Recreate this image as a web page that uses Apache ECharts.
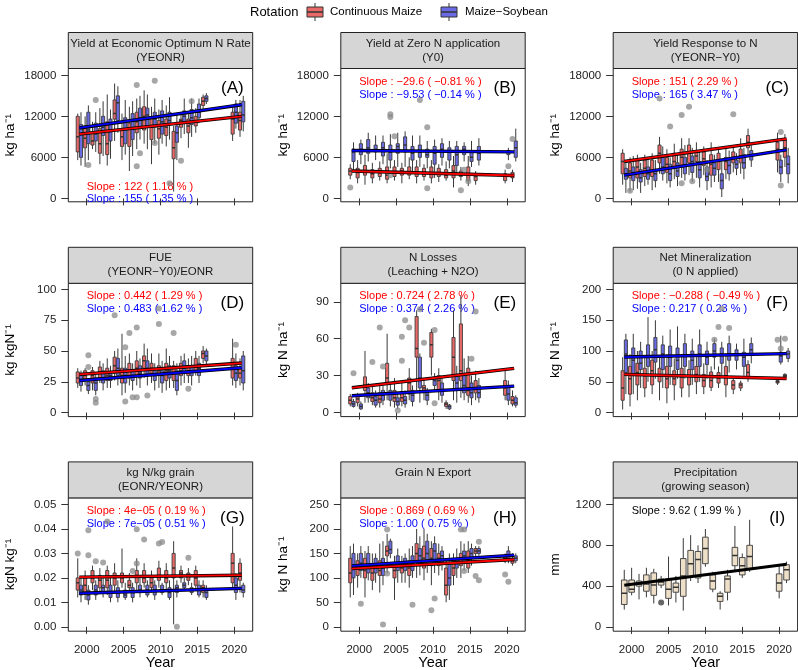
<!DOCTYPE html>
<html><head><meta charset="utf-8">
<script src="https://cdn.jsdelivr.net/npm/echarts@6/dist/echarts.min.js"></script>
<style>html,body{margin:0;padding:0;background:#fff}#c{width:798px;height:670px}</style>
</head><body><div id="c"></div>
<script>
// ---------------- DATA ----------------
const years = [1999,2000,2001,2002,2003,2004,2005,2006,2007,2008,2009,2010,2011,2012,2013,2014,2015,2016,2020,2021];
const rotations = ['Continuous Maize','Maize\u2212Soybean'];
const xTicks = [2000,2005,2010,2015,2020];

// each row: [min, q1, median, q3, max]
const A_cm = [[5600,6800,9000,12000,12400],[4600,7400,8800,10600,12000],[7200,7800,8400,9600,11200],[5000,6600,8000,10200,13200],[4800,6400,8000,11200,15200],[8400,11600,12400,14400,16800],[5600,7600,9000,10000,12400],[4000,7600,10200,11000,13400],[7200,9600,11200,12600,14600],[8000,10000,12000,13400,15800],[5000,8600,10400,11800,13400],[6400,8800,10200,11400,13000],[7600,9200,10400,11600,13600],[1000,5800,7400,9800,10600],[8800,10400,11400,11600,12600],[7400,9600,10600,11600,12400],[9600,10600,11200,12000,13200],[13000,13600,14200,14800,15200],[8400,9400,11600,12600,13400],[9000,10000,11400,12600,14400]];
const A_ms = [[4800,6000,9500,10800,12600],[5600,8000,10000,12600,13600],[6800,8400,9400,11000,12600],[6200,9200,10400,12000,14200],[5800,8400,9800,11600,13000],[9600,11400,14000,15000,16400],[6400,8000,10200,11800,14400],[6200,8600,10200,12400,14200],[8600,10400,11800,13200,15000],[7200,10400,12200,13200,15200],[8000,10400,11600,12600,14600],[8000,9400,11200,12800,14400],[8600,10800,11400,12600,14800],[5600,8200,9600,10600,12200],[9400,11200,12000,12800,14600],[9000,10800,11800,13000,14600],[11000,11800,12600,13800,14600],[13800,14200,14600,15000,15400],[10200,11000,12600,13800,14400],[9800,11200,12200,14200,15000]];
const A_outCM = [[2007,16600],[2007,4700],[2013,5500]];
const A_outMS = [[2000,4900],[2001,14400],[2009,17200],[2007,6600],[2009,8100],[2014,14200],[2011,2200]];
const A_fitCM = [[1999,9400],[2021,12000]];
const A_fitMS = [[1999,10300],[2021,13700]];

const B_cm = [[2800,3400,4000,4400,5000],[2200,3000,3800,4400,5600],[2000,3400,4000,4800,6400],[2200,3000,3600,4200,5200],[2600,3200,3800,4400,5400],[2200,2800,3400,4600,6600],[2600,3200,3800,4600,5600],[2200,3400,4000,4400,5200],[2800,3400,3800,4600,6000],[2200,3200,3800,4600,5600],[2600,3200,3800,4400,5000],[2200,3000,3600,4600,5600],[2400,3200,3800,4400,5000],[2600,3000,3400,4200,5400],[1600,3000,4000,4800,6200],[2600,3200,3400,4000,4600],[1800,2600,3400,4600,6200],[2000,2600,3200,3400,4000],[2200,2600,3400,3600,4200],[2400,3000,3400,3800,4200]];
const B_ms = [[4200,5400,6800,7200,8200],[5000,6400,7200,8000,8600],[5400,6600,7400,8600,9600],[5600,6800,7200,7800,9200],[5000,6200,7400,8200,9200],[4400,5600,6800,7800,9400],[4600,6600,7600,8000,9600],[4600,6800,7800,9000,9800],[4000,5600,6600,7600,9200],[4600,6000,6800,7800,9200],[4400,6000,6400,7200,8400],[3000,5000,6600,7600,8600],[4800,6000,7200,8000,8800],[4400,5600,6800,7400,8400],[3600,4800,6400,7600,8400],[5400,6400,7200,7600,8200],[4600,5400,6000,7000,8400],[4800,5600,6600,7600,8800],[5600,6400,6800,7000,7400],[5400,6000,7400,8400,10200]];
const B_outCM = [[1999,1600],[2005,9100],[2015,2500],[2014,1200],[2021,8700]];
const B_outMS = [[2004,12300],[2004,11900],[2008,14400],[2009,10400],[2009,1500],[2004,3400],[2014,4200],[2020,4700]];
const B_fitCM = [[1999,4000],[2021,3350]];
const B_fitMS = [[1999,7000],[2021,6800]];

const C_cm = [[2000,3600,5400,6600,7200],[1000,3000,4000,5200,6000],[1400,3000,4600,5600,6400],[1800,3200,4400,5600,6400],[1200,3200,4000,5600,6600],[3600,5200,6600,7800,9000],[2200,3800,5000,6000,7200],[2800,4400,5400,6600,8000],[3000,4600,6000,7200,8800],[3400,5200,6800,7800,8800],[3000,5400,6200,6800,8200],[3400,4800,5800,6800,7600],[1600,3400,5000,6400,8200],[2400,4200,5600,6600,7200],[2800,4200,5400,6000,7400],[3800,5200,6000,6800,7800],[3600,5200,6200,7200,8800],[6200,7400,8200,9200,10200],[3800,5600,7200,8200,9600],[4600,6000,7400,8600,9400]];
const C_ms = [[800,2800,3600,4400,5600],[1200,2600,3800,4600,6200],[800,2400,3000,4200,5200],[2000,2800,3600,4600,5800],[1600,2600,3600,4200,5600],[2600,3600,4600,6000,7600],[1600,2600,3600,5000,6000],[1800,3200,4000,5200,6400],[2600,3600,4800,6000,7800],[2400,3800,5400,6200,7400],[1600,3000,4200,5400,6800],[1200,2600,3200,4600,5600],[2400,3400,4400,5200,6400],[200,1400,2600,3600,5800],[2600,3600,4800,5600,7000],[3400,4400,5000,5600,6600],[2800,4400,5200,6400,7400],[4600,5600,6400,7000,7800],[2400,3600,4600,5600,6400],[2200,3600,5000,6200,7400]];
const C_outCM = [[2000,1100],[2004,14600],[2007,12200],[2008,13400],[2014,12300],[2007,2200]];
const C_outMS = [[2005,10500],[2008,2500],[2010,4200],[2020,1900],[2020,9700]];
const C_fitCM = [[1999,5400],[2021,8700]];
const C_fitMS = [[1999,3400],[2021,7100]];

const D_cm = [[20,24,28,33,36],[22,26,30,34,36],[18,24,30,34,37],[24,28,33,37,42],[20,26,30,36,44],[26,32,38,45,50],[14,24,30,36,64],[22,28,34,40,48],[22,30,36,42,50],[28,36,42,46,56],[24,32,36,40,48],[20,30,34,38,48],[18,26,34,40,52],[20,26,32,38,42],[22,30,34,40,46],[24,30,34,38,44],[30,34,38,44,50],[40,44,48,50,54],[22,28,36,44,60],[22,28,32,36,44]];
const D_ms = [[17,22,26,30,34],[15,18,22,25,28],[14,18,24,28,32],[18,24,28,34,40],[20,26,30,33,38],[22,30,36,44,52],[16,24,30,36,46],[18,26,30,34,40],[20,28,32,38,44],[22,30,36,42,52],[18,26,30,34,40],[16,24,30,34,42],[20,28,34,38,46],[14,18,26,34,40],[24,32,36,42,48],[22,30,34,38,46],[24,30,36,40,46],[38,42,46,50,52],[20,26,32,38,48],[18,24,34,46,50]];
const D_outCM = [[2004,79],[2006,64.7],[2007,69],[2010,72],[2012,64.7],[2007,12.5],[2014,19.3],[2010,84.5]];
const D_outMS = [[2000,46.5],[2000,37],[2005,53],[2001,11],[2001,8],[2005,9],[2006,12.5],[2008,13.9],[2020,55]];
const D_fitCM = [[1999,31],[2021,40.2]];
const D_fitMS = [[1999,26],[2021,36.4]];

const E_cm = [[5,7,10,13,15],[5,8,11,13,16],[8,18,22,29,50],[6,9,12,16,22],[4,8,11,16,22],[10,23,28,40,64],[4,9,12,18,28],[5,9,12,17,25],[10,15,24,28,36],[18,45,52,78,83],[10,16,20,22,26],[30,45,55,65,68],[10,18,26,30,36],[3,5,7,8,10],[10,26,45,61,83],[12,26,34,72,95],[8,14,18,36,46],[10,16,20,26,34],[10,14,20,26,34],[5,7,10,13,18]];
const E_ms = [[4,5,7,9,11],[2,3,5,7,9],[8,12,16,20,24],[4,6,10,13,18],[6,10,14,18,22],[5,10,15,18,24],[3,6,9,12,16],[4,7,10,13,18],[5,9,14,18,22],[8,20,28,45,48],[6,10,14,16,20],[18,22,26,28,32],[8,14,18,24,28],[2,3,5,6,7],[8,18,24,30,38],[10,16,22,30,44],[6,12,16,24,30],[8,12,16,22,28],[6,10,15,20,26],[4,6,8,12,14]];
const E_outCM = [[2003,69],[2002,41],[2007,69],[2006,61.5],[2006,42],[2009,56.6],[2016,82]];
const E_outMS = [[1999,32],[2003,37.5],[2006,75],[2005,1.6],[2010,67],[2010,7.6],[2015,43.8],[2008,84]];
const E_fitCM = [[1999,20.1],[2021,35.9]];
const E_fitMS = [[1999,13.6],[2021,21.5]];

const F_cm = [[5,20,40,68,90],[10,30,55,75,95],[20,45,65,80,100],[25,40,60,72,92],[30,45,68,85,100],[20,50,60,72,90],[15,40,55,75,95],[20,45,55,68,88],[25,40,58,72,95],[25,45,60,70,85],[30,50,62,75,90],[30,42,52,62,80],[35,41,52,66,75],[40,48,56,65,75],[25,45,60,75,92],[30,38,45,52,55],[35,40,45,48,52],[50,58,65,78,85],[45,48,50,52,55],[55,58,60,62,64]];
const F_ms = [[30,65,95,118,128],[30,60,85,105,128],[40,70,80,100,115],[50,75,90,110,155],[55,82,102,122,150],[40,70,95,110,125],[45,75,90,108,135],[55,70,85,105,140],[55,75,92,112,128],[45,70,85,100,120],[50,75,95,110,135],[55,78,90,100,115],[70,90,100,112,120],[60,80,95,105,115],[65,85,95,112,125],[70,85,95,102,112],[60,75,90,98,120],[80,95,102,112,122],[78,82,92,98,125],[82,88,95,100,105]];
const F_outCM = [[2012,139],[2020,118.5],[2021,120]];
const F_outMS = [[2011,118.5],[2013,137.5],[2012,169],[2020,104]];
const F_fitCM = [[1999,62],[2021,55.4]];
const F_fitMS = [[1999,90.2],[2021,95.7]];

const G_cm = [[0.012,0.015,0.018,0.020,0.028],[0.011,0.014,0.017,0.020,0.023],[0.015,0.018,0.020,0.023,0.025],[0.014,0.016,0.019,0.021,0.024],[0.013,0.016,0.019,0.023,0.025],[0.014,0.017,0.020,0.022,0.026],[0.016,0.018,0.020,0.022,0.032],[0.014,0.016,0.017,0.019,0.022],[0.015,0.018,0.021,0.023,0.028],[0.016,0.018,0.020,0.023,0.026],[0.014,0.016,0.018,0.020,0.023],[0.016,0.019,0.021,0.024,0.027],[0.015,0.018,0.020,0.023,0.026],[0.001,0.020,0.024,0.030,0.035],[0.018,0.020,0.022,0.023,0.025],[0.017,0.019,0.021,0.022,0.024],[0.015,0.017,0.020,0.023,0.025],[0.012,0.014,0.016,0.017,0.019],[0.016,0.018,0.026,0.030,0.041],[0.014,0.019,0.022,0.026,0.028]];
const G_ms = [[0.010,0.013,0.015,0.017,0.020],[0.009,0.011,0.013,0.015,0.017],[0.011,0.013,0.015,0.017,0.019],[0.012,0.014,0.016,0.017,0.020],[0.010,0.012,0.014,0.017,0.020],[0.010,0.012,0.014,0.016,0.019],[0.011,0.012,0.013,0.015,0.018],[0.010,0.012,0.014,0.016,0.018],[0.012,0.014,0.015,0.017,0.020],[0.012,0.013,0.015,0.017,0.019],[0.011,0.013,0.015,0.017,0.019],[0.013,0.014,0.015,0.017,0.018],[0.011,0.012,0.014,0.016,0.019],[0.012,0.014,0.016,0.017,0.019],[0.015,0.016,0.017,0.018,0.020],[0.013,0.014,0.015,0.016,0.018],[0.012,0.013,0.015,0.017,0.019],[0.011,0.012,0.014,0.015,0.017],[0.011,0.014,0.017,0.020,0.022],[0.012,0.014,0.015,0.017,0.018]];
const G_outCM = [[1999,0.030],[2003,0.043],[2007,0.0399],[2008,0.0357],[2007,0.0259],[2010,0.0341],[2014,0.0282]];
const G_outMS = [[2000,0.0395],[2000,0.0293],[2001,0.0268],[2002,0.0263],[2010,0.0347],[2006,0.0228],[2012,0.0]];
const G_fitCM = [[1999,0.0203],[2021,0.0211]];
const G_fitMS = [[1999,0.0137],[2021,0.0157]];

const H_cm = [[60,90,110,140,165],[80,105,120,135,150],[60,100,115,140,155],[75,95,110,125,150],[70,105,115,135,170],[110,145,155,165,190],[55,100,115,130,145],[90,110,120,130,145],[80,105,120,135,160],[100,135,150,170,200],[95,120,140,165,200],[85,125,140,160,175],[105,125,140,150,170],[50,65,85,120,140],[85,105,120,135,150],[100,125,140,150,175],[110,120,135,155,175],[140,150,155,160,165],[130,135,140,145,150],[125,130,135,140,150]];
const H_ms = [[65,100,125,150,170],[100,115,130,150,165],[95,110,125,150,165],[90,110,125,140,150],[85,105,120,140,175],[140,150,158,175,180],[90,115,130,145,160],[90,115,125,140,150],[100,115,130,145,165],[105,125,145,160,185],[110,130,150,175,190],[110,130,155,170,185],[115,130,145,155,165],[55,85,100,130,150],[100,120,130,140,160],[115,130,145,155,170],[125,140,150,160,170],[145,150,155,160,165],[130,138,145,155,165],[130,135,140,145,150]];
const H_outCM = [[2004,199],[2004,109],[2010,34],[2014,199],[2016,104],[2020,107]];
const H_outMS = [[2000,47],[2003,4.8],[2007,45],[2010,58],[2014,199],[2014,114],[2016,95],[2016,174],[2020,92]];
const H_fitCM = [[1999,119],[2021,137.6]];
const H_fitMS = [[1999,124.6],[2021,146.4]];

const I_all = [[170,220,330,460,560],[310,340,370,460,580],[270,400,420,450,520],[290,350,420,510,580],[230,310,410,530,570],[380,410,440,470,500],[210,280,370,470,690],[240,340,390,430,500],[160,300,500,670,870],[450,490,620,750,900],[430,480,660,740,800],[590,620,770,880,960],[340,370,450,510,540],[170,250,300,330,350],[260,340,470,500,560],[550,600,700,780,990],[480,510,600,680,720],[540,570,690,800,1050],[280,350,430,520,600],[430,460,560,610,640]];
const I_out = [[2004,240]];
const I_fit = [[1999,409],[2021,615]];

const stripTitles = [
  ['Yield at Economic Optimum N Rate','(YEONR)'],
  ['Yield at Zero N application','(Y0)'],
  ['Yield Response to N','(YEONR\u2212Y0)'],
  ['FUE','(YEONR\u2212Y0)/EONR'],
  ['N Losses','(Leaching + N2O)'],
  ['Net Mineralization','(0 N applied)'],
  ['kg N/kg grain','(EONR/YEONR)'],
  ['Grain N Export',''],
  ['Precipitation','(growing season)']
];
const panelLetters = ['(A)','(B)','(C)','(D)','(E)','(F)','(G)','(H)','(I)'];
const yTitles = ['kg ha\u207B\u00B9','kg ha\u207B\u00B9','kg ha\u207B\u00B9','kg kgN\u207B\u00B9','kg N ha\u207B\u00B9','kg N ha\u207B\u00B9','kgN kg\u207B\u00B9','kg N ha\u207B\u00B9','mm'];
const slopeCM = ['Slope : 122 ( 1.18 % )','Slope : \u221229.6 ( \u22120.81 % )','Slope : 151 ( 2.29 % )','Slope : 0.442 ( 1.29 % )','Slope : 0.724 ( 2.78 % )','Slope : \u22120.288 ( \u22120.49 % )','Slope : 4e\u221205 ( 0.19 % )','Slope : 0.869 ( 0.69 % )','Slope : 9.62 ( 1.99 % )'];
const slopeMS = ['Slope : 155 ( 1.35 % )','Slope : \u22129.53 ( \u22120.14 % )','Slope : 165 ( 3.47 % )','Slope : 0.483 ( 1.62 % )','Slope : 0.374 ( 2.26 % )','Slope : 0.217 ( 0.23 % )','Slope : 7e\u221205 ( 0.51 % )','Slope : 1.00 ( 0.75 % )',''];
const yTicks = [
  [0,6000,12000,18000],[0,6000,12000,18000],[0,6000,12000,18000],
  [0,25,50,75,100],[0,30,60,90],[0,50,100,150,200],
  [0,0.01,0.02,0.03,0.04,0.05],[0,50,100,150,200,250],[0,400,800,1200]
];

// ---------------- LAYOUT ----------------
const FONT = '"Liberation Sans", Arial, Helvetica, sans-serif';
const COLS = [68.3, 340.8, 613.2], PW = 184.4;
const ROWS = [68.5, 283.3, 497.9], PH = 133.3, STRIP = 36;
const XMIN = 1997.5, XMAX = 2022.5;
const YR = [[-500,19000],[-500,19000],[-500,19000],[-3.3,105],[-3.3,105],[-6.5,210],[-0.0018,0.0527],[-9,263.5],[-42,1265]];
const RED = '#EA6868', BLUE = '#6A6AE4', BEIGE = '#EEDFC8';
const DODGE = 0.22, HALF = 0.21;

const panels = [
  {cm:A_cm, ms:A_ms, oCM:A_outCM, oMS:A_outMS, fCM:A_fitCM, fMS:A_fitMS, bottomText:true},
  {cm:B_cm, ms:B_ms, oCM:B_outCM, oMS:B_outMS, fCM:B_fitCM, fMS:B_fitMS},
  {cm:C_cm, ms:C_ms, oCM:C_outCM, oMS:C_outMS, fCM:C_fitCM, fMS:C_fitMS},
  {cm:D_cm, ms:D_ms, oCM:D_outCM, oMS:D_outMS, fCM:D_fitCM, fMS:D_fitMS},
  {cm:E_cm, ms:E_ms, oCM:E_outCM, oMS:E_outMS, fCM:E_fitCM, fMS:E_fitMS},
  {cm:F_cm, ms:F_ms, oCM:F_outCM, oMS:F_outMS, fCM:F_fitCM, fMS:F_fitMS},
  {cm:G_cm, ms:G_ms, oCM:G_outCM, oMS:G_outMS, fCM:G_fitCM, fMS:G_fitMS},
  {cm:H_cm, ms:H_ms, oCM:H_outCM, oMS:H_outMS, fCM:H_fitCM, fMS:H_fitMS},
  {single:I_all, oSingle:I_out, fSingle:I_fit}
];

function boxRenderer(dodge, half, fill){
  return function(params, api){
    const yr = api.value(0) + dodge;
    const pMin = api.coord([yr, api.value(1)]);
    const pQ1 = api.coord([yr, api.value(2)]);
    const pMed = api.coord([yr, api.value(3)]);
    const pQ3 = api.coord([yr, api.value(4)]);
    const pMax = api.coord([yr, api.value(5)]);
    const w = api.size([half*2, 0])[0];
    const x = pMed[0];
    const st = {stroke:'#3a3a3a', lineWidth:1};
    return {type:'group', children:[
      {type:'line', shape:{x1:x,y1:pMax[1],x2:x,y2:pQ3[1]}, style:st},
      {type:'line', shape:{x1:x,y1:pQ1[1],x2:x,y2:pMin[1]}, style:st},
      {type:'rect', shape:{x:x-w/2,y:pQ3[1],width:w,height:pQ1[1]-pQ3[1]}, style:{fill:fill, stroke:'#3a3a3a', lineWidth:0.9}},
      {type:'line', shape:{x1:x-w/2,y1:pMed[1],x2:x+w/2,y2:pMed[1]}, style:{stroke:'#333', lineWidth:1.5}}
    ]};
  };
}

const grids=[], xAxes=[], yAxes=[], series=[], graphics=[];
panels.forEach((p,i)=>{
  const col=i%3, row=Math.floor(i/3);
  const L=COLS[col], T=ROWS[row];
  grids.push({left:L, top:T, width:PW, height:PH, show:true, borderColor:'#222', borderWidth:1, backgroundColor:'#fff'});
  xAxes.push({gridIndex:i, type:'value', min:XMIN, max:XMAX, splitLine:{show:false}, axisLine:{show:false},
    axisTick:{show:true, length:7, lineStyle:{color:'#333'}, customValues:xTicks},
    axisLabel:{show:row===2, customValues:xTicks, color:'#222', fontSize:11.5, margin:13, fontFamily:FONT, formatter: v => String(v)}});
  const ytk = yTicks[i];
  yAxes.push({gridIndex:i, type:'value', min:YR[i][0], max:YR[i][1], splitLine:{show:false}, axisLine:{show:false},
    axisTick:{show:true, length:7, lineStyle:{color:'#333'}, customValues:ytk},
    axisLabel:{customValues:ytk, color:'#222', fontSize:11.5, margin:12, fontFamily:FONT,
      formatter: v => i===6 ? v.toFixed(2) : String(Math.round(v))}});
  const mk = arr => years.map((y,k)=>[y].concat(arr[k]));
  const enc = {x:0, y:[1,2,3,4,5]};
  if (p.single){
    series.push({type:'custom', xAxisIndex:i, yAxisIndex:i, renderItem:boxRenderer(0,0.38,BEIGE), data:mk(p.single), encode:enc, clip:true, z:2});
    series.push({type:'scatter', xAxisIndex:i, yAxisIndex:i, data:p.oSingle, symbolSize:6, itemStyle:{color:'#555', opacity:0.9}, z:3});
    series.push({type:'line', xAxisIndex:i, yAxisIndex:i, data:p.fSingle, showSymbol:false, lineStyle:{color:'#000', width:3}, z:4});
  } else {
    series.push({type:'custom', xAxisIndex:i, yAxisIndex:i, renderItem:boxRenderer(-DODGE,HALF,RED), data:mk(p.cm), encode:enc, clip:true, z:2});
    series.push({type:'custom', xAxisIndex:i, yAxisIndex:i, renderItem:boxRenderer(DODGE,HALF,BLUE), data:mk(p.ms), encode:enc, clip:true, z:2});
    series.push({type:'scatter', xAxisIndex:i, yAxisIndex:i, data:p.oCM.map(d=>[d[0]-DODGE,d[1]]).concat(p.oMS.map(d=>[d[0]+DODGE,d[1]])),
      symbolSize:6, itemStyle:{color:'#8a8a8a', opacity:0.75}, z:3});
    [[p.fCM,'#FF0000'],[p.fMS,'#0000FF']].forEach(([f,c])=>{
      series.push({type:'line', xAxisIndex:i, yAxisIndex:i, data:f, showSymbol:false, lineStyle:{color:'#000', width:3.4}, z:4});
      series.push({type:'line', xAxisIndex:i, yAxisIndex:i, data:f, showSymbol:false, lineStyle:{color:c, width:1.8}, z:5});
    });
  }
  // strip
  graphics.push({type:'rect', shape:{x:L, y:T-STRIP, width:PW, height:STRIP}, style:{fill:'#D6D6D6', stroke:'#222', lineWidth:1}, z:1});
  stripTitles[i].forEach((s,k)=>{ if(s) graphics.push({type:'text', x:L+PW/2, y:T-STRIP+11+k*14, style:{text:s, font:'11.5px '+FONT, fill:'#1a1a1a', textAlign:'center', textVerticalAlign:'middle'}, z:2}); });
  // slope labels
  const tx = L + (2000-XMIN)/(XMAX-XMIN)*PW;
  const ty1 = p.bottomText ? T+118 : T+13, ty2 = p.bottomText ? T+130 : T+26;
  if (p.single){
    graphics.push({type:'text', x:tx, y:ty1, style:{text:slopeCM[i], font:'11px '+FONT, fill:'#000', textVerticalAlign:'middle'}, z:1});
  } else {
    graphics.push({type:'text', x:tx, y:ty1, style:{text:slopeCM[i], font:'11px '+FONT, fill:'#FF0000', textVerticalAlign:'middle'}, z:1});
    graphics.push({type:'text', x:tx, y:ty2, style:{text:slopeMS[i], font:'11px '+FONT, fill:'#0000FF', textVerticalAlign:'middle'}, z:1});
  }
  graphics.push({type:'text', x:L+164, y:T+20, style:{text:panelLetters[i], font:'17px '+FONT, fill:'#000', textAlign:'center', textVerticalAlign:'middle'}, z:1});
  // y title
  graphics.push({type:'text', x:L-58, y:T+PH/2, rotation:Math.PI/2, style:{text:yTitles[i], font:'13.5px '+FONT, fill:'#000', textAlign:'center', textVerticalAlign:'middle'}, z:1});
  if (row===2) graphics.push({type:'text', x:L+PW/2, y:663, style:{text:'Year', font:'14.5px '+FONT, fill:'#000', textAlign:'center', textVerticalAlign:'middle'}, z:1});
});

// legend
graphics.push({type:'text', x:250, y:12, style:{text:'Rotation', font:'13px '+FONT, fill:'#000', textVerticalAlign:'middle'}});
[[306,330,RED,rotations[0]],[440,465,BLUE,rotations[1]]].forEach(([kx,lx,c,t])=>{
  graphics.push({type:'line', shape:{x1:kx+9,y1:3,x2:kx+9,y2:21}, style:{stroke:'#333', lineWidth:1}});
  graphics.push({type:'rect', shape:{x:kx+1,y:7,width:16,height:10}, style:{fill:c, stroke:'#333', lineWidth:1}});
  graphics.push({type:'line', shape:{x1:kx+1,y1:12,x2:kx+17,y2:12}, style:{stroke:'#333', lineWidth:1.5}});
  graphics.push({type:'text', x:lx, y:12, style:{text:t, font:'11.5px '+FONT, fill:'#000', textVerticalAlign:'middle'}});
});

const chart = echarts.init(document.getElementById('c'));
chart.setOption({animation:false, backgroundColor:'#fff', grid:grids, xAxis:xAxes, yAxis:yAxes, series:series, graphic:{elements:graphics}});
</script></body></html>
